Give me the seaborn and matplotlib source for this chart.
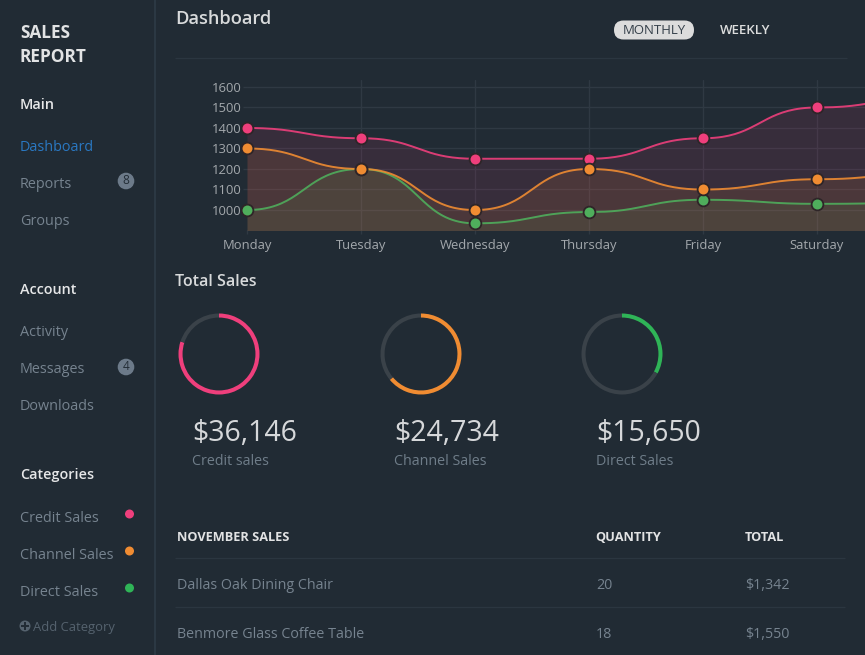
import numpy as np
import pandas as pd
import matplotlib
matplotlib.use("Agg")
import matplotlib.pyplot as plt
from matplotlib.patches import FancyBboxPatch, Circle
import seaborn as sns

days = ["Monday", "Tuesday", "Wednesday", "Thursday", "Friday", "Saturday", "Sunday"]
credit_values = [1400, 1350, 1250, 1250, 1350, 1500, 1550]
channel_values = [1300, 1200, 1000, 1200, 1100, 1150, 1180]
direct_values = [1000, 1200, 935, 990, 1050, 1030, 1035]
y_ticks = [1000, 1100, 1200, 1300, 1400, 1500, 1600]

totals = ["$36,146", "$24,734", "$15,650"]
total_labels = ["Credit sales", "Channel Sales", "Direct Sales"]
total_shares = [0.80, 0.64, 0.33]

table_headers = ["NOVEMBER SALES", "QUANTITY", "TOTAL"]
table_products = ["Dallas Oak Dining Chair", "Benmore Glass Coffee Table"]
table_quantity = ["20", "18"]
table_total = ["$1,342", "$1,550"]

main_menu = ["Dashboard", "Reports", "Groups"]
account_menu = ["Activity", "Messages", "Downloads"]
category_menu = ["Credit Sales", "Channel Sales", "Direct Sales"]

BG = "#212b34"
PINK, ORANGE, GREEN = "#ef3f7c", "#f08c32", "#4fae5c"
RING_GREEN = "#2fb457"
TRACK = "#3a4249"
GRID = "#2f3943"
MUTED = "#76838f"
W, H = 865, 655

sns.set_theme(style="dark")
plt.rcParams["font.family"] = ["Open Sans", "DejaVu Sans"]
plt.rcParams["axes.unicode_minus"] = False

fig = plt.figure(figsize=(W / 100, H / 100), dpi=100, facecolor=BG)


def px(v):
    return v * 72 / 100


def rect(left, top, width, height):
    return [left / W, 1 - (top + height) / H, width / W, height / H]


# page layer in pixel coordinates
page = fig.add_axes([0, 0, 1, 1], facecolor="none")
page.set_xlim(0, W)
page.set_ylim(H, 0)
page.axis("off")


def label(x, y, s, size=14.4, color=MUTED, weight="normal", ha="left"):
    page.text(x - 0.1 if ha == "left" else x, y + 1.4, s, fontsize=px(size), color=color,
              fontweight=weight, ha=ha, va="center")


def rule(y, x0=175, x1=847):
    page.plot([x0, x1], [y, y], color="#2b3640", lw=0.9, solid_capstyle="butt")


page.plot([155, 155], [0, H], color="#2c3944", lw=1.4)

# sidebar
label(20, 32, "SALES", 17.3, "#e2e3e4", "bold")
label(20, 56, "REPORT", 17.3, "#e2e3e4", "bold")
label(20, 104, "Main", 14.4, "#e6e7e8", "semibold")
for y, s in zip([146, 183, 220], main_menu):
    label(20, y, s, 14.4, "#2a78c2" if s == "Dashboard" else MUTED)
label(20, 289, "Account", 14.4, "#e6e7e8", "semibold")
for y, s in zip([331, 368, 405], account_menu):
    label(20, y, s, 14.4)
label(20, 474, "Categories", 14.4, "#e6e7e8", "semibold")
for y, s, c in zip([517, 554, 591], category_menu, [PINK, ORANGE, RING_GREEN]):
    label(20, y, s, 14.4)
    page.add_patch(Circle((129.5, y - 3), 4.5, color=c, lw=0))
for y, s in [(181, "8"), (367, "4")]:
    page.add_patch(Circle((126, y), 8.3, color="#6c7a89", lw=0))
    label(126, y - 1.4, s, 12, "#232d36", ha="center")
page.add_patch(Circle((25, 626), 5.5, color="#55626e", lw=0))
page.plot([25], [626], marker="+", ms=6, mew=1.4, color=BG)
label(33.5, 626, "Add Category", 13, "#55626e")

# header
label(175, 18, "Dashboard", 18.3, "#d8dadb", "semibold")
page.add_patch(FancyBboxPatch((614, 20.5), 80, 19, boxstyle="round,pad=0,rounding_size=9.5",
                              fc="#dcdcdc", ec="none"))
label(654, 29.5, "MONTHLY", 13.2, "#35404a", ha="center")
label(720.5, 29.5, "WEEKLY", 13.2, "#dcdddd", "semibold")
rule(58)

# line chart: Monday at x=247, step 114 px; 1000 at y=210, 100 units = 20.5 px
ax = fig.add_axes(rect(247, 80, W - 247, 150.5), facecolor="none")


def smooth(values, n=40, k=0.5):
    xs, ys = [], []
    t = np.linspace(0, 1, n)
    for i in range(len(values) - 1):
        x0, x3 = i, i + 1
        x1, x2 = x0 + k, x3 - k
        y0, y3 = values[i], values[i + 1]
        xs.append((1 - t) ** 3 * x0 + 3 * (1 - t) ** 2 * t * x1 + 3 * (1 - t) * t ** 2 * x2 + t ** 3 * x3)
        ys.append((1 - t) ** 3 * y0 + 3 * (1 - t) ** 2 * t * y0 + 3 * (1 - t) * t ** 2 * y3 + t ** 3 * y3)
    return np.concatenate(xs), np.concatenate(ys)


series = [("Credit", credit_values, PINK), ("Direct", direct_values, GREEN), ("Channel", channel_values, ORANGE)]
for name, vals, col in series:
    xs, ys = smooth(vals)
    ax.fill_between(xs, ys, 900, color=col, alpha=0.11, lw=0, zorder=1)
    sns.lineplot(x=xs, y=ys, ax=ax, color=col, lw=1.4, alpha=0.9, sort=False, errorbar=None, zorder=3)
for name, vals, col in series:
    df = pd.DataFrame({"x": range(len(vals)), "y": vals})
    sns.scatterplot(data=df, x="x", y="y", ax=ax, color=col, s=72, edgecolor="#2e2528",
                    linewidth=1.3, zorder=4, clip_on=False)

ax.set_xticks(range(len(days)))
ax.set_xticklabels(days)
ax.set_yticks(y_ticks)
ax.set_xlim(0, (W - 247) / 114)
ax.set_ylim(900, 900 + 150.5 / 20.5 * 100)
ax.set_xlabel("")
ax.set_ylabel("")
ax.grid(True, color=GRID, lw=1)
ax.set_axisbelow(True)
ax.get_xgridlines()[0].set_visible(False)
for s in ax.spines.values():
    s.set_visible(False)
ax.tick_params(axis="both", which="both", length=3, width=1, color=GRID, labelcolor="#a3a8ac",
               labelsize=px(13), pad=1, bottom=True, left=True)
ax.tick_params(axis="x", pad=3)

# total sales
label(175, 281, "Total Sales", 16, "#d8dadb", "semibold")
ring_centres = [219, 421, 622]
text_x = [192, 394, 596]
for cx, tx, share, col, total, lab in zip(ring_centres, text_x, total_shares,
                                          [PINK, ORANGE, RING_GREEN], totals, total_labels):
    a = fig.add_axes(rect(cx - 40.5, 354 - 40.5, 81, 81), facecolor="none")
    a.pie([share, 1 - share], colors=[col, TRACK], startangle=90, counterclock=False,
          radius=1, wedgeprops=dict(width=0.1, lw=0))
    a.set_xlim(-1, 1)
    a.set_ylim(-1, 1)
    label(tx, 432, total, 28.5, "#d6d8da")
    label(tx, 460, lab, 14.2, "#6f7d89")

# table
for x, s in zip([177, 595, 745], table_headers):
    label(x, 536, s, 12.7, "#e2e3e4", "bold")
rule(558, 175, 845)
rule(607, 175, 845)
for y, p, q, t in zip([584, 633], table_products, table_quantity, table_total):
    label(177, y, p, 14.2)
    label(596, y, q, 14.2)
    label(745, y, t, 14.2)

fig.savefig("out.png", dpi=100, facecolor=BG)
